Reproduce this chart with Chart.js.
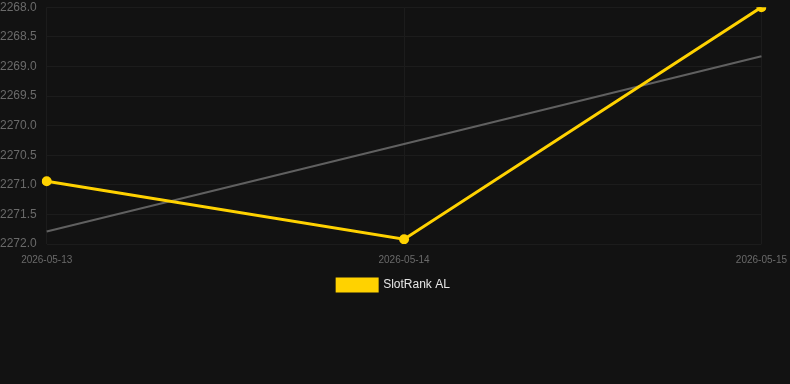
<!DOCTYPE html>
<html><head><meta charset="utf-8">
<script src="https://cdn.jsdelivr.net/npm/chart.js@4"></script>
<style>html,body{margin:0;padding:0;background:#121212;}#wrap{width:790px;height:301px;position:relative;}</style>
</head><body><div id="wrap"><canvas id="c"></canvas></div>
<script>
const categories = ['2026-05-13', '2026-05-14', '2026-05-15'];
const rankValues = [2270.94, 2271.92, 2268.0];
const trendValues = [2271.79, 2270.31, 2268.83];
const seriesName = 'SlotRank AL';

Chart.defaults.font.family = 'Arial, "Liberation Sans", sans-serif';
new Chart(document.getElementById('c'), {
  type: 'line',
  data: {
    labels: categories,
    datasets: [
      {label: seriesName, data: rankValues, borderColor: '#ffd200', backgroundColor: '#ffd200',
       borderWidth: 3, pointRadius: 5, pointBackgroundColor: '#ffd200', pointBorderWidth: 0, tension: 0},
      {label: 'trend', data: trendValues, borderColor: '#606060', borderWidth: 2, pointRadius: 0, tension: 0}
    ]
  },
  options: {
    responsive: true, maintainAspectRatio: false, animation: false,
    layout: {autoPadding: false, padding: {left: 0, right: 3, top: 0, bottom: 0}},
    plugins: {
      legend: {position: 'bottom', labels: {color: '#e6e6e6', font: {size: 12}, boxWidth: 40, boxHeight: 12,
        padding: 3, filter: (item) => item.text === seriesName}},
      tooltip: {enabled: false}
    },
    scales: {
      x: {grid: {color: '#1c1c1c', drawTicks: true, tickLength: 7, tickColor: 'rgba(0,0,0,0)'}, border: {display: false},
          ticks: {color: '#6a6a6a', font: {size: 10}, padding: 3, maxRotation: 0},
          afterFit: (scale) => { scale.height += 7; }},
      y: {reverse: true, min: 2268, max: 2272,
          grid: {color: '#1c1c1c', drawTicks: true, tickLength: 10, tickColor: 'rgba(0,0,0,0)'}, border: {display: false},
          ticks: {stepSize: 0.5, color: '#6a6a6a', font: {size: 12}, padding: 0,
                  callback: (v) => Number(v).toFixed(1)}}
    }
  }
});
</script></body></html>
